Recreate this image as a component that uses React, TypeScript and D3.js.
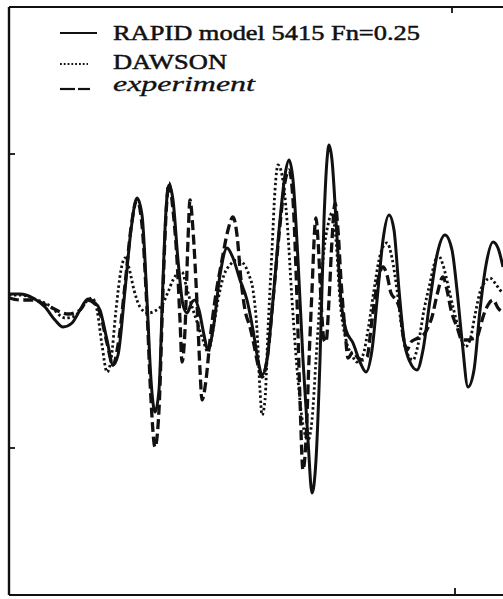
import React from "react";
import * as d3 from "d3";

const W = 503;
const H = 599;

// x: longitudinal distance (arbitrary units), y: wave elevation (tick at ±147)
const rapidX = [0,11,24,36,46,54,63,71,79,85,91,98,104,109,116,122,128,133,138,142,146,150,154,157,160,164,169,174,178,183,186,190,195,199,204,211,218,224,231,238,244,249,253,258,264,271,276,280,284,289,294,299,303,307,311,315,318,320,323,327,332,337,344,351,357,363,369,374,380,385,390,395,401,408,414,421,428,436,443,448,453,459,465,471,477,484,489,494];
const rapidY = [7,7,3,-6,-19,-26,-22,-9,2,-1,-9,-39,-64,-54,11,71,103,86,1,-79,-111,-89,21,91,116,101,41,-4,-12,-1,1,-9,-34,-49,-29,26,53,43,21,1,-29,-59,-74,-59,1,81,126,141,121,41,-59,-139,-192,-159,-59,81,141,156,141,81,1,-29,-42,-61,-71,-49,11,61,86,71,11,-39,-61,-69,-49,1,46,66,51,11,-39,-86,-69,-9,36,59,53,34];

const dawsonX = [0,11,26,41,56,66,76,83,88,93,98,102,107,112,116,120,125,131,139,146,153,159,164,169,173,177,181,188,194,199,204,209,215,221,228,234,240,244,248,251,253,256,259,263,266,269,273,278,283,289,294,299,303,307,311,315,319,323,327,331,337,343,348,354,359,365,370,375,378,383,388,393,399,404,409,415,421,425,429,434,439,444,450,456,461,466,471,476,481,486,491,494];
const dawsonY = [6,6,2,-5,-17,-15,-2,3,-9,-44,-71,-59,-9,31,43,33,11,-6,-12,-10,-4,9,21,28,29,16,1,-21,-39,-51,-29,1,26,36,41,38,26,11,-29,-89,-114,-99,-29,51,111,136,126,81,1,-79,-124,-139,-119,-59,1,51,76,88,61,1,-39,-54,-61,-54,-29,11,41,56,58,43,11,-29,-54,-59,-44,-9,18,36,46,36,16,-6,-29,-46,-39,-14,9,19,23,18,11,8];

const expX = [0,11,24,41,59,71,79,85,91,98,104,109,116,122,128,133,138,142,146,150,154,157,160,164,168,171,173,176,179,181,184,188,191,193,197,201,206,213,219,224,228,232,236,241,245,249,253,258,264,271,276,280,284,288,291,294,297,300,303,306,307,309,312,315,317,320,323,326,329,332,336,339,344,349,354,358,363,368,374,378,382,387,391,394,398,402,409,416,420,423,428,434,438,442,448,453,458,463,468,471,474,479,484,489,494];
const expY = [3,1,1,-6,-13,-9,1,-2,-12,-42,-64,-44,16,73,101,76,-9,-99,-146,-109,11,86,118,91,41,-19,-61,-29,61,101,71,-2,-69,-99,-79,-39,1,41,71,84,66,21,-9,-26,-44,-64,-76,-59,1,76,119,131,101,1,-99,-169,-139,-59,11,76,83,61,1,-39,-41,1,61,98,71,21,-29,-57,-51,-57,-59,-56,-19,16,34,26,8,1,-9,-34,-49,-41,-37,-32,-24,-16,6,24,11,-9,-26,-39,-39,-38,-36,-27,-16,-4,1,-7,-12];

const legendLabels = ["RAPID model 5415 Fn=0.25", "DAWSON", "experiment"];
const yTicks = [147, -147];
const xTicks = [445];

const INK = "#111";

export default function App() {
  const x = d3.scaleLinear().domain([0, 494]).range([9, 503]);
  const y = d3.scaleLinear().domain([294, -294]).range([7, 595]);
  const line = d3
    .line<[number, number]>()
    .x((d) => x(d[0]))
    .y((d) => y(d[1]))
    .curve(d3.curveMonotoneX);

  const zip = (a: number[], b: number[]) => a.map((v, i) => [v, b[i]] as [number, number]);

  const x0 = x(0);
  const yTop = y(294);
  const yBot = y(-294);
  const serif = "'Liberation Serif', 'Times New Roman', serif";

  return (
    <svg
      width={W}
      height={H}
      style={{ position: "absolute", left: 0, top: 0, background: "#fff" }}
    >
      <rect x={0} y={0} width={W} height={H} fill="#fff" />
      {/* frame */}
      <line x1={x0} y1={yTop} x2={W} y2={yTop} stroke={INK} strokeWidth={1.8} />
      <line x1={x0} y1={yBot} x2={W} y2={yBot} stroke={INK} strokeWidth={1.8} />
      <line x1={x0} y1={yTop} x2={x0} y2={yBot} stroke={INK} strokeWidth={2.4} />
      {yTicks.map((t) => (
        <line key={t} x1={x0} x2={x0 + 6} y1={y(t)} y2={y(t)} stroke={INK} strokeWidth={1.8} />
      ))}
      {xTicks.map((t) => (
        <g key={t}>
          <line x1={x(t) - 2} x2={x(t) - 2} y1={yTop} y2={yTop + 6} stroke={INK} strokeWidth={1.8} />
          <line x1={x(t) + 1} x2={x(t) + 1} y1={yBot} y2={yBot - 7} stroke={INK} strokeWidth={1.8} />
        </g>
      ))}

      {/* curves */}
      <path d={line(zip(dawsonX, dawsonY)) || ""} fill="none" stroke={INK} strokeWidth={2.8} strokeDasharray="2.4 2.6" />
      <path d={line(zip(expX, expY)) || ""} fill="none" stroke={INK} strokeWidth={3.3} strokeDasharray="10 4.5" />
      <path d={line(zip(rapidX, rapidY)) || ""} fill="none" stroke={INK} strokeWidth={3} />

      {/* legend */}
      <line x1={60} x2={97} y1={33} y2={33} stroke={INK} strokeWidth={1.8} />
      <line x1={60} x2={88} y1={64} y2={64} stroke={INK} strokeWidth={2} strokeDasharray="1.8 2" />
      <line x1={60} x2={75} y1={89} y2={89} stroke={INK} strokeWidth={2.2} />
      <line x1={78} x2={90} y1={89} y2={89} stroke={INK} strokeWidth={2.2} />
      <text
        x={113}
        y={40}
        fontFamily={serif}
        fontSize={21}
        fill={INK}
        stroke={INK}
        strokeWidth={0.5}
        textLength={307}
        lengthAdjust="spacingAndGlyphs"
      >
        {legendLabels[0]}
      </text>
      <text
        x={113}
        y={69}
        fontFamily={serif}
        fontSize={21}
        fill={INK}
        stroke={INK}
        strokeWidth={0.5}
        textLength={114}
        lengthAdjust="spacingAndGlyphs"
      >
        {legendLabels[1]}
      </text>
      <text
        x={113}
        y={91}
        fontFamily={serif}
        fontStyle="italic"
        fontSize={20}
        fill={INK}
        stroke={INK}
        strokeWidth={0.3}
        textLength={142}
        lengthAdjust="spacingAndGlyphs"
      >
        {legendLabels[2]}
      </text>
    </svg>
  );
}
